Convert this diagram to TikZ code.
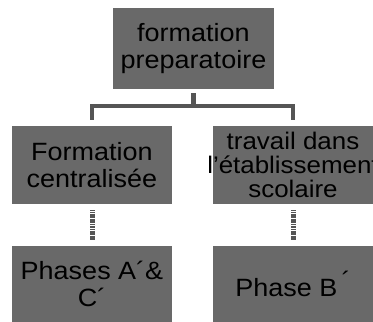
\documentclass[tikz,border=0pt]{standalone}
\usepackage{fontspec}
\setmainfont{Liberation Sans}[FakeStretch=1.08]
\definecolor{boxgray}{HTML}{696969}
\definecolor{linegray}{HTML}{555555}
\tikzset{
  box/.style={fill=boxgray, inner sep=0pt, minimum width=160pt, align=center,
    font=\fontsize{25}{27}\selectfont, text=black},
  conn/.style={draw=linegray, line width=4.5pt},
  connv/.style={draw=linegray, line width=5pt, dash pattern=on 1.2pt off 0.5pt}
}
\begin{document}
\begin{tikzpicture}[x=1pt,y=1pt]
\useasboundingbox (0,0) rectangle (373,-322);
\node[box, minimum width=161pt, minimum height=81pt] (top) at (193.5,-48.5) {formation\\preparatoire};
\node[box, minimum height=78pt] (ml) at (92,-165) {Formation\\centralisée};
\node[box, minimum height=78pt, font=\fontsize{24}{24}\selectfont] (mr) at (293,-165) {travail dans\\\makebox[150pt]{l'établissement}\\scolaire};
\node[box, minimum height=76pt] (bl) at (92,-284) {Phases A´\&\\C´};
\node[box, minimum height=76pt] (br) at (293,-284) {Phase B\,\raisebox{7pt}{´}};
\draw[conn, shorten <=4pt, shorten >=6pt] (top.south) -- ++(0,-17) -| (ml.north);
\draw[conn, shorten <=4pt, shorten >=6pt] (top.south) -- ++(0,-17) -| (mr.north);
\draw[connv, shorten <=6pt, shorten >=6pt] (ml) -- (bl);
\draw[connv, shorten <=6pt, shorten >=6pt] (mr) -- (br);
\end{tikzpicture}
\end{document}
